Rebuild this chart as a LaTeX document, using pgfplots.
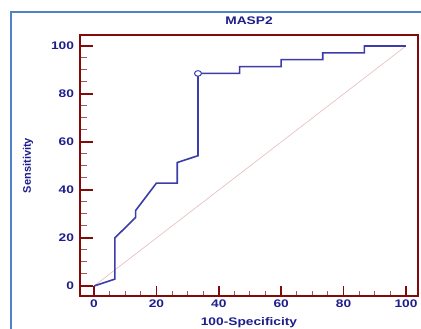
\documentclass[border=0pt]{standalone}
\usepackage{fontspec}
\setmainfont{Liberation Sans}[FakeStretch=1.25]
\newfontfamily\ylfont{Liberation Sans}
\usepackage{pgfplots}
\pgfplotsset{compat=1.18}
\definecolor{navy}{RGB}{30,30,140}
\definecolor{curvec}{RGB}{60,60,170}
\definecolor{axisc}{RGB}{130,10,10}
\definecolor{framec}{RGB}{80,130,200}
\definecolor{diagc}{RGB}{230,185,185}
\begin{document}
\begin{tikzpicture}
\useasboundingbox (0pt,0pt) rectangle (421pt,329pt);
\draw[framec, line width=1.5pt] (11pt,0pt) -- (11pt,317pt) -- (421.5pt,317pt);
\begin{axis}[
  at={(80pt,33pt)}, anchor=south west, scale only axis,
  width=338pt, height=261pt,
  xmin=-4.49, xmax=103.85, ymin=-4.17, ymax=104.58,
  axis line style={axisc, line width=1.5pt},
  xtick={0,20,...,100}, ytick={0,20,...,100}, minor tick num=3,
  tick align=inside, tick pos=left,
  major tick style={axisc, line width=1.5pt},
  minor tick style={axisc!70, line width=1pt},
  major tick length=10pt, minor tick length=5pt,
  every major y tick/.append style={/pgfplots/major tick length=13pt},
  every minor y tick/.append style={/pgfplots/minor tick length=7pt},
  /pgf/number format/assume math mode=true,
  ticklabel style={font=\bfseries\fontsize{11}{13}\selectfont, text=navy},
  yticklabel style={xshift=-2.5pt},
  title={MASP2},
  title style={font=\bfseries\fontsize{11}{13}\selectfont, text=navy, at={(axis description cs:0.5,1)}, anchor=south, yshift=1pt},
  xlabel={100-Specificity},
  xlabel style={font=\bfseries\fontsize{11}{13}\selectfont, text=navy, at={(axis description cs:0.5,0)}, anchor=base, yshift=-30pt},
  ylabel={\ylfont Sensitivity},
  ylabel style={font=\bfseries\fontsize{11}{13}\selectfont, text=navy, at={(axis description cs:-0.154,0.5)}, anchor=center},
  clip=false,
]
\addplot[diagc, line width=0.6pt] coordinates {(0,0) (100,100)};
\addplot[curvec, line width=1.6pt] coordinates {
 (0,0) (6.67,2.86) (6.67,20) (13.33,28.57) (13.33,31.43) (20,42.86) (26.67,42.86)
 (26.67,51.43) (33.33,54.29) (33.33,88.57) (46.67,88.57) (46.67,91.43) (60,91.43)
 (60,94.29) (73.33,94.29) (73.33,97.14) (86.67,97.14) (86.67,100) (100,100)};
\addplot[only marks, mark=*, mark size=2.8pt, mark options={fill=white, draw=curvec, line width=1pt, xscale=1.25}] coordinates {(33.33,88.57)};
\end{axis}
\end{tikzpicture}
\end{document}
